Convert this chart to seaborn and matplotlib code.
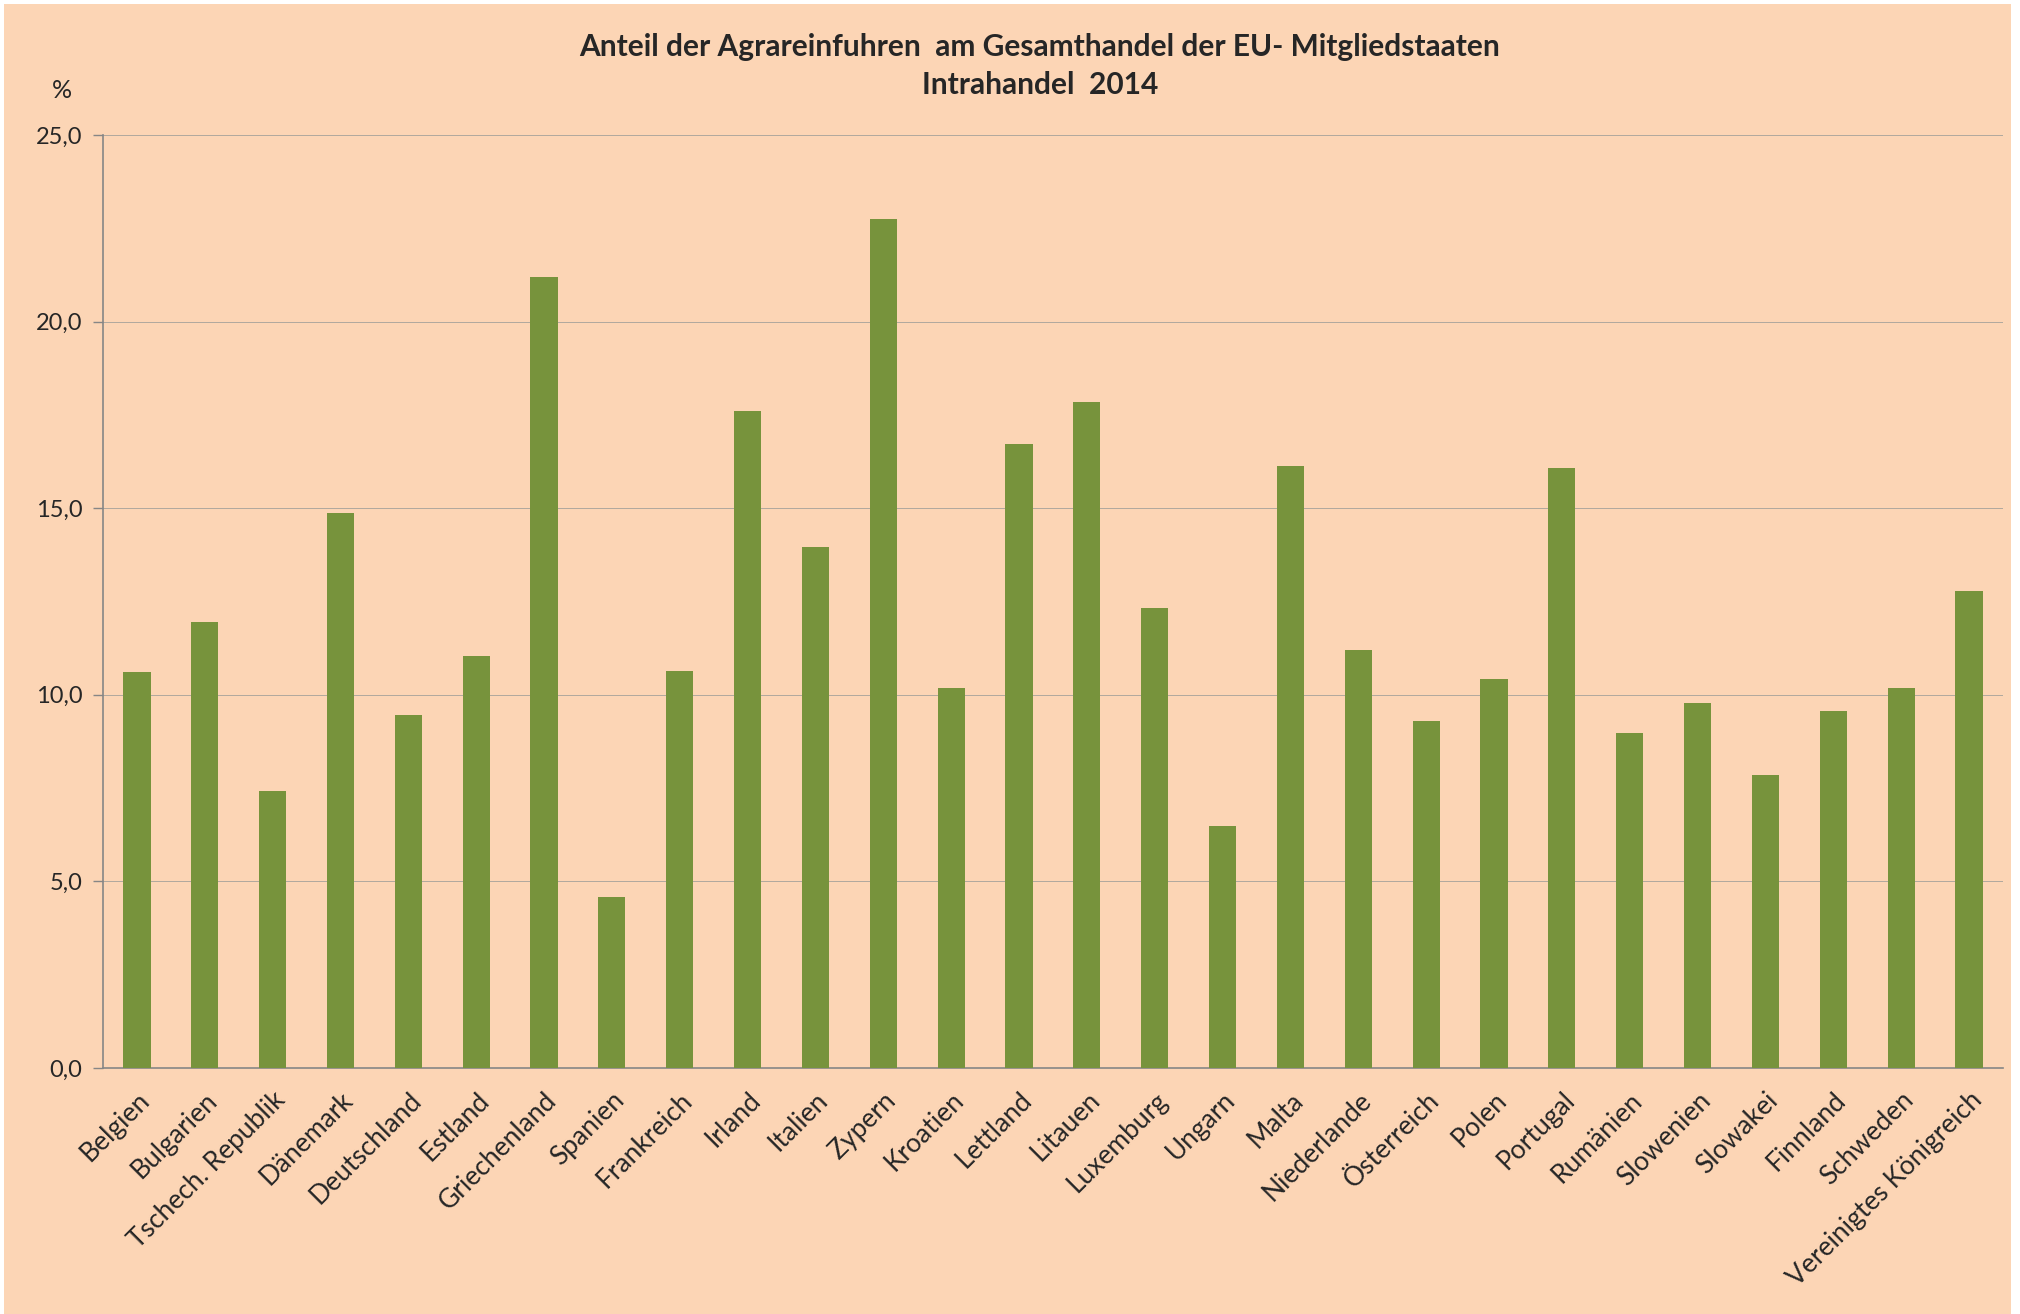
import numpy as np
import pandas as pd
import matplotlib
matplotlib.use("Agg")
import matplotlib.pyplot as plt
import seaborn as sns

# Data (share of agricultural imports in total trade, intra-EU, 2014)
countries = [
    "Belgien", "Bulgarien", "Tschech. Republik", "Dänemark", "Deutschland",
    "Estland", "Griechenland", "Spanien", "Frankreich", "Irland", "Italien",
    "Zypern", "Kroatien", "Lettland", "Litauen", "Luxemburg", "Ungarn",
    "Malta", "Niederlande", "Österreich", "Polen", "Portugal", "Rumänien",
    "Slowenien", "Slowakei", "Finnland", "Schweden", "Vereinigtes Königreich",
]
shares = [
    10.6, 11.95, 7.42, 14.88, 9.46,
    11.05, 21.2, 4.59, 10.64, 17.61, 13.95,
    22.76, 10.19, 16.71, 17.85, 12.33, 6.49,
    16.13, 11.19, 9.29, 10.43, 16.09, 8.98,
    9.77, 7.84, 9.56, 10.19, 12.78,
]
y_ticks = [0, 5, 10, 15, 20, 25]

title = "Anteil der Agrareinfuhren  am Gesamthandel der EU- Mitgliedstaaten\nIntrahandel  2014"

BG = "#FCD5B5"
BAR = "#77933C"

sns.set_theme(style="white")
plt.rcParams["font.family"] = ["Lato", "DejaVu Sans"]

df = pd.DataFrame({"Land": countries, "Anteil": shares})

W, H = 2020, 1314
fig = plt.figure(figsize=(W / 100, H / 100), dpi=100)
fig.patch.set_facecolor("white")
# peach chart area
fig.patches.append(plt.Rectangle((4 / W, 0), (2011 - 4) / W, (H - 4) / H,
                                 transform=fig.transFigure, facecolor=BG,
                                 edgecolor="none", zorder=-1))

left, right, top, bottom = 103, 2003, 135, 1068
ax = fig.add_axes([left / W, 1 - bottom / H, (right - left) / W, (bottom - top) / H])
ax.set_facecolor(BG)

sns.barplot(data=df, x="Land", y="Anteil", color=BAR, width=0.4,
            saturation=1, edgecolor="none", linewidth=0, ax=ax, zorder=3)

ax.set_xlim(-0.5, len(countries) - 0.5)
ax.set_ylim(0, 25)
ax.set_yticks(y_ticks)
ax.set_yticklabels([f"{v:.1f}".replace(".", ",") for v in y_ticks], fontsize=17)
ax.yaxis.grid(True, color="#B0A89E", linewidth=0.7, zorder=0)
ax.set_axisbelow(True)

ax.set_xlabel("")
ax.set_ylabel("")
ax.set_xticks(range(len(countries)))
ax.set_xticklabels(countries, rotation=45, ha="right", rotation_mode="anchor",
                   fontsize=19)
ax.set_xticks(np.arange(-0.5, len(countries), 1), minor=True)
ax.tick_params(axis="x", which="major", length=0, pad=14)
ax.tick_params(axis="x", which="minor", length=7, width=1, color="#868686", direction="out")
ax.tick_params(axis="y", which="major", length=7, width=1, color="#868686", direction="out", pad=8)
ax.tick_params(axis="y", left=True)

for side in ["top", "right"]:
    ax.spines[side].set_visible(False)
for side in ["left", "bottom"]:
    ax.spines[side].set_color("#868686")
    ax.spines[side].set_linewidth(1.2)

fig.text(1040 / W, 1 - 66 / H, title, ha="center", va="center",
         fontsize=21.5, fontweight="bold", linespacing=1.45)
fig.text(62 / W, 1 - 90 / H, "%", ha="center", va="center", fontsize=18)

fig.savefig("out.png", dpi=100, facecolor=fig.get_facecolor())
